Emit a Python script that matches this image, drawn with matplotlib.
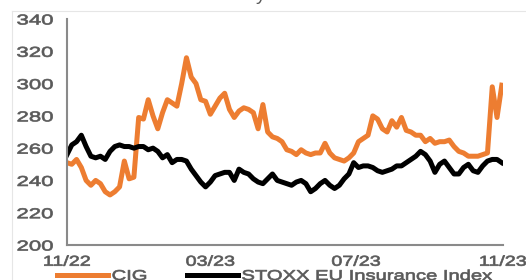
import numpy as np
import pandas as pd
import matplotlib
matplotlib.use("Agg")
import matplotlib.pyplot as plt
import matplotlib.dates as mdates
import matplotlib.patheffects as pe
from matplotlib.transforms import Affine2D
from matplotlib.lines import Line2D

# values every 4 days, 01.11.2022 -> 01.11.2023
start_date = "2022-11-01"
step = "4D"

cig = [251, 250, 253, 248, 240, 237, 240, 238, 233, 231,
       233, 236, 252, 241, 242, 279, 278, 290, 280, 272,
       282, 290, 288, 286, 300, 316, 304, 300, 290, 289,
       281, 286, 291, 294, 284, 279, 283, 285, 284, 282,
       272, 287, 270, 267, 266, 264, 259, 258, 256, 259,
       257, 256, 257, 257, 263, 257, 254, 253, 252, 254,
       257, 264, 266, 268, 280, 278, 272, 270, 277, 273,
       279, 271, 270, 268, 268, 264, 266, 263, 264, 264,
       265, 261, 258, 257, 255, 255, 255, 256, 257, 298,
       279, 299]

stoxx = [256, 262, 264, 268, 261, 255, 254, 255, 253, 258,
         261, 262, 261, 261, 260, 261, 261, 259, 260, 258,
         254, 256, 251, 253, 253, 252, 247, 243, 239, 236,
         239, 243, 244, 245, 245, 240, 247, 245, 244, 241,
         239, 238, 241, 244, 240, 239, 238, 237, 239, 240,
         238, 233, 235, 238, 240, 237, 235, 237, 241, 244,
         251, 248, 249, 249, 248, 246, 245, 246, 247, 249,
         249, 251, 253, 255, 258, 256, 252, 245, 250, 252,
         248, 244, 244, 248, 250, 246, 245, 249, 252, 253,
         253, 251]

series_names = ["CIG", "STOXX EU Insurance Index"]
y_ticks = [200, 220, 240, 260, 280, 300, 320, 340]
x_ticks = ["2022-11-01", "2023-03-01", "2023-07-01", "2023-11-01"]

orange = "#ED7D31"
grey_text = "#595959"
font_size = 10.3


class Stretch(pe.AbstractPathEffect):
    # widen glyphs sideways, keeping the anchor (0 left, .5 centre, 1 right) in place,
    # with a thin outline so the text reads a bit heavier
    def __init__(self, sx, anchor, edge=0.5):
        super().__init__()
        self.sx = sx
        self.anchor = anchor
        self.edge = edge

    def draw_path(self, renderer, gc, tpath, affine, rgbFace=None):
        ext = tpath.get_extents()
        x0 = ext.x0 + (ext.x1 - ext.x0) * self.anchor
        t = Affine2D().translate(-x0, 0).scale(self.sx, 1).translate(x0, 0) + affine
        gc0 = renderer.new_gc()
        gc0.copy_properties(gc)
        gc0.set_foreground(rgbFace)
        gc0.set_linewidth(self.edge)
        renderer.draw_path(gc0, tpath, t, rgbFace)
        gc0.restore()


plt.rcParams['font.family'] = ['Liberation Sans', 'DejaVu Sans']

dates = pd.date_range(start_date, periods=len(cig), freq=step)

fig = plt.figure(figsize=(5.26, 2.8), dpi=100)
ax = fig.add_axes([67/526, 35/280, 436/526, 226/280])

l1, = ax.plot(dates, cig, color=orange, lw=3.6)
l2, = ax.plot(dates, stoxx, color="black", lw=3.6)

ax.set_ylim(200, 340)
ax.set_yticks(y_ticks)
ax.set_xlim(pd.Timestamp(x_ticks[0]), pd.Timestamp(x_ticks[-1]))
ax.set_xticks(pd.to_datetime(x_ticks))
ax.xaxis.set_major_formatter(mdates.DateFormatter("%m/%y"))

for s in ["top", "right"]:
    ax.spines[s].set_visible(False)
for s in ["left", "bottom"]:
    ax.spines[s].set_color("#8a8a8a")
    ax.spines[s].set_linewidth(1.5)

ax.tick_params(axis="y", length=0, pad=10, labelsize=font_size, labelcolor=grey_text)
ax.tick_params(axis="x", length=0, pad=7, labelsize=font_size, labelcolor=grey_text)
for t in ax.get_yticklabels():
    t.set_path_effects([Stretch(1.55, 1.0)])
for t in ax.get_xticklabels():
    t.set_path_effects([Stretch(1.38, 0.5)])

leg = ax.legend([l1, l2], series_names, ncol=2, loc="center left",
                bbox_to_anchor=(57/526, 4/280), bbox_transform=fig.transFigure,
                frameon=False, fontsize=font_size, handlelength=3.56,
                handletextpad=0.28, columnspacing=3.45, borderpad=0, borderaxespad=0)
for t in leg.get_texts():
    t.set_color(grey_text)
    t.set_path_effects([Stretch(1.41, 0.0)])

# faint frame of the surrounding panel and the cut title above
fig.add_artist(Line2D([12/526, 1], [1 - 11/280, 1 - 11/280], transform=fig.transFigure,
                      color="#e6e6e6", lw=0.8))
fig.add_artist(Line2D([12/526, 12/526], [0, 1 - 11/280], transform=fig.transFigure,
                      color="#e6e6e6", lw=0.8))
fig.text(256/526, 1.0, "y", fontsize=14, color=grey_text, va="baseline", ha="left")

fig.savefig("out.png", dpi=100)
